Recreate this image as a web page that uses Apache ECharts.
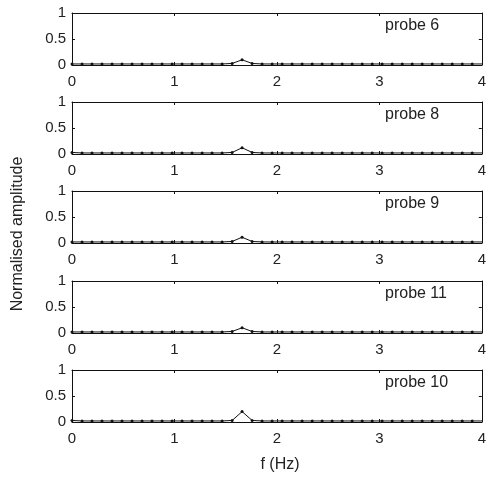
<!DOCTYPE html>
<html>
<head>
<meta charset="utf-8">
<script src="https://cdn.jsdelivr.net/npm/echarts@6/dist/echarts.min.js"></script>
<style>html,body{margin:0;padding:0;background:#fff;}#c{width:489px;height:477px;}</style>
</head>
<body>
<div id="c"></div>
<script>
var freq = [0,0.098,0.195,0.293,0.391,0.488,0.586,0.684,0.781,0.879,0.977,1.074,1.172,1.270,1.367,1.465,1.563,1.660,1.758,1.855,1.953,2.051,2.148,2.246,2.344,2.441,2.539,2.637,2.734,2.832,2.930,3.027,3.125,3.223,3.320,3.418,3.516,3.613,3.711,3.809,3.906,4.004];
var probeNames = ['probe 6','probe 8','probe 9','probe 11','probe 10'];
var probe6  = [0.02,0.02,0.02,0.02,0.02,0.02,0.02,0.02,0.02,0.02,0.02,0.02,0.02,0.02,0.02,0.02,0.03,0.10,0.03,0.02,0.02,0.02,0.02,0.02,0.02,0.02,0.02,0.02,0.02,0.02,0.02,0.02,0.02,0.02,0.02,0.02,0.02,0.02,0.02,0.02,0.02,0.02];
var probe8  = [0.03,0.02,0.02,0.02,0.02,0.02,0.02,0.02,0.02,0.02,0.02,0.02,0.02,0.02,0.02,0.02,0.03,0.12,0.03,0.02,0.02,0.02,0.02,0.02,0.02,0.02,0.02,0.02,0.02,0.02,0.02,0.02,0.02,0.02,0.02,0.02,0.02,0.02,0.02,0.02,0.02,0.02];
var probe9  = [0.02,0.02,0.02,0.02,0.02,0.02,0.02,0.02,0.02,0.02,0.02,0.02,0.02,0.02,0.02,0.02,0.03,0.11,0.03,0.02,0.02,0.02,0.02,0.02,0.02,0.02,0.02,0.02,0.02,0.02,0.02,0.02,0.02,0.02,0.02,0.02,0.02,0.02,0.02,0.02,0.02,0.02];
var probe11 = [0.02,0.02,0.02,0.02,0.02,0.02,0.02,0.02,0.02,0.02,0.02,0.02,0.02,0.02,0.02,0.02,0.03,0.10,0.03,0.02,0.02,0.02,0.02,0.02,0.02,0.02,0.02,0.02,0.02,0.02,0.02,0.02,0.02,0.02,0.02,0.02,0.02,0.02,0.02,0.02,0.02,0.02];
var probe10 = [0.03,0.02,0.02,0.02,0.02,0.02,0.02,0.02,0.02,0.02,0.02,0.02,0.02,0.02,0.02,0.02,0.03,0.20,0.03,0.02,0.02,0.02,0.02,0.02,0.02,0.02,0.02,0.02,0.02,0.02,0.02,0.02,0.02,0.02,0.02,0.02,0.02,0.02,0.02,0.02,0.02,0.02];
var xTicks = [0,1,2,3,4];
var yTicks = [0,0.5,1];
var seriesData = [probe6, probe8, probe9, probe11, probe10];

var chart = echarts.init(document.getElementById('c'), null, {renderer:'canvas'});
var tops = [13, 102, 191, 281, 370];
var font = 'Liberation Sans, Arial, sans-serif';
var grids = [], xAxes = [], yAxes = [], series = [], graphics = [];
var lineStyle = {color:'#111', width:1};
tops.forEach(function(t, i){
  grids.push({left:72, width:415, top:t, height:52});
  xAxes.push({type:'value', gridIndex:i, min:0, max:4, interval:1, position:'bottom',
    axisLine:{show:true, onZero:false, lineStyle:lineStyle},
    axisTick:{show:true, inside:true, length:3, lineStyle:lineStyle},
    axisLabel:{show:true, color:'#222', fontSize:15, fontFamily:font, margin:9,
      formatter:function(v){return xTicks.indexOf(v)>=0 ? String(v) : '';}},
    splitLine:{show:false}});
  xAxes.push({type:'value', gridIndex:i, min:0, max:4, interval:1, position:'top',
    axisLine:{show:true, onZero:false, lineStyle:lineStyle},
    axisTick:{show:true, inside:true, length:3, lineStyle:lineStyle},
    axisLabel:{show:false}, splitLine:{show:false}});
  yAxes.push({type:'value', gridIndex:i, min:0, max:1, interval:0.5, position:'left',
    axisLine:{show:true, onZero:false, lineStyle:lineStyle},
    axisTick:{show:true, inside:true, length:3, lineStyle:lineStyle},
    axisLabel:{show:true, color:'#222', fontSize:15, fontFamily:font, margin:6,
      formatter:function(v){return yTicks.indexOf(v)>=0 ? String(v) : '';}},
    splitLine:{show:false}});
  yAxes.push({type:'value', gridIndex:i, min:0, max:1, interval:0.5, position:'right',
    axisLine:{show:true, onZero:false, lineStyle:lineStyle},
    axisTick:{show:true, inside:true, length:3, lineStyle:lineStyle},
    axisLabel:{show:false}, splitLine:{show:false}});
  series.push({type:'line', xAxisIndex:2*i, yAxisIndex:2*i,
    data: freq.map(function(f, k){return [f, seriesData[i][k]];}),
    symbol:'circle', symbolSize:3, showSymbol:true,
    itemStyle:{color:'#111'}, lineStyle:{color:'#111', width:1},
    clip:true, silent:true, animation:false});
  graphics.push({type:'text', left:385, top:t+5,
    style:{text:probeNames[i], fontSize:16, fontFamily:font, fill:'#222'}});
});
graphics.push({type:'text', x:18, y:234, rotation:Math.PI/2,
  style:{text:'Normalised amplitude', fontSize:16, fontFamily:font, fill:'#222', align:'center', verticalAlign:'middle'}});
graphics.push({type:'text', x:280, y:465,
  style:{text:'f (Hz)', fontSize:16, fontFamily:font, fill:'#222', align:'center', verticalAlign:'middle'}});

chart.setOption({
  animation:false,
  backgroundColor:'#fff',
  grid:grids, xAxis:xAxes, yAxis:yAxes, series:series, graphic:graphics
});
</script>
</body>
</html>
